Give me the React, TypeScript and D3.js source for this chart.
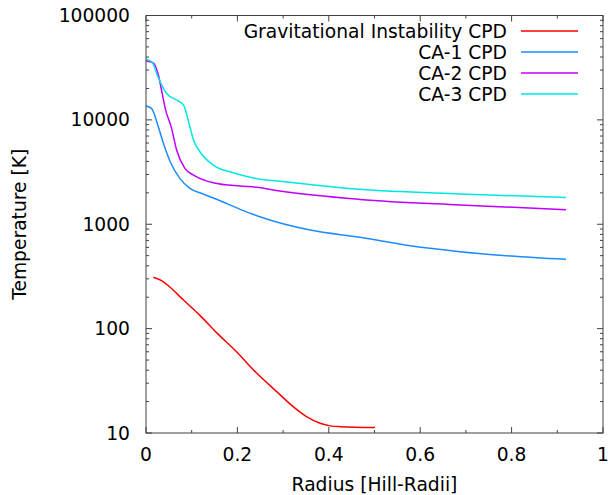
import React from "react";
import * as d3 from "d3";

const W = 608;
const H = 495;
const M = { left: 146, right: 5, top: 15.5, bottom: 62 };

const seriesNames = ["Gravitational Instability CPD", "CA-1 CPD", "CA-2 CPD", "CA-3 CPD"];
const seriesColors = ["#ff0000", "#1e8cff", "#bf00ff", "#00e6e6"];

// radius [Hill radii], temperature [K]
const giR = [0.016, 0.034, 0.045, 0.082, 0.118, 0.155, 0.198, 0.242, 0.286, 0.322, 0.352, 0.381, 0.403, 0.425, 0.501];
const giT = [310, 288, 266, 188, 134, 91, 60, 37.5, 24.9, 17.9, 14.3, 12.4, 11.7, 11.5, 11.3];

const ca1R = [0, 0.012, 0.027, 0.038, 0.053, 0.074, 0.096, 0.125, 0.162, 0.206, 0.249, 0.359, 0.468, 0.578, 0.687, 0.797, 0.919];
const ca1T = [13600, 12900, 8600, 5960, 3970, 2750, 2210, 1950, 1680, 1390, 1180, 880, 750, 622, 546, 496, 461];

const ca2R = [0, 0.016, 0.027, 0.034, 0.042, 0.056, 0.067, 0.085, 0.104, 0.147, 0.206, 0.242, 0.293, 0.468, 0.687, 0.919];
const ca2T = [36600, 35200, 26900, 19300, 12900, 8300, 5140, 3430, 2960, 2500, 2320, 2260, 2080, 1730, 1530, 1380];

const ca3R = [0, 0.013, 0.026, 0.045, 0.074, 0.082, 0.096, 0.104, 0.118, 0.147, 0.191, 0.235, 0.293, 0.468, 0.687, 0.919];
const ca3T = [38200, 35800, 25900, 17900, 14900, 13900, 8600, 6400, 4950, 3690, 3110, 2770, 2580, 2160, 1950, 1800];

const xTicks = [0, 0.2, 0.4, 0.6, 0.8, 1];
const xTickLabels = ["0", "0.2", "0.4", "0.6", "0.8", "1"];
const yTicks = [10, 100, 1000, 10000, 100000];
const yTickLabels = ["10", "100", "1000", "10000", "100000"];

const xLabel = "Radius [Hill-Radii]";
const yLabel = "Temperature [K]";

const FONT = "'DejaVu Sans', sans-serif";
const FS = 18.7;
const AXIS = "#404040";

export default function App() {
  const x = d3.scaleLinear().domain([0, 1]).range([M.left, W - M.right]);
  const y = d3.scaleLog().domain([10, 100000]).range([H - M.bottom, M.top]);
  const x0 = M.left, x1 = W - M.right, y0 = H - M.bottom, y1 = M.top;

  const series = [
    { r: giR, t: giT },
    { r: ca1R, t: ca1T },
    { r: ca2R, t: ca2T },
    { r: ca3R, t: ca3T },
  ];
  const line = d3
    .line<[number, number]>()
    .x((d) => x(d[0]))
    .y((d) => y(d[1]))
    .curve(d3.curveMonotoneX);

  const xMinor = d3.range(0.1, 1, 0.2);
  const yMinor: number[] = [];
  for (let dec = 10; dec < 100000; dec *= 10) {
    for (let k = 2; k <= 9; k++) yMinor.push(dec * k);
  }
  const MAJ = 6, MIN = 3;

  return (
    <svg width={W} height={H} style={{ position: "absolute", left: 0, top: 0, background: "#fff" }}>
      <rect x={0} y={0} width={W} height={H} fill="#fff" />
      {/* ticks */}
      <g stroke={AXIS} strokeWidth={1}>
        {xTicks.map((v) => (
          <g key={"xt" + v}>
            <line x1={x(v)} x2={x(v)} y1={y0} y2={y0 - MAJ} />
            <line x1={x(v)} x2={x(v)} y1={y1} y2={y1 + MAJ} />
          </g>
        ))}
        {xMinor.map((v) => (
          <g key={"xm" + v}>
            <line x1={x(v)} x2={x(v)} y1={y0} y2={y0 - MIN} />
            <line x1={x(v)} x2={x(v)} y1={y1} y2={y1 + MIN} />
          </g>
        ))}
        {yTicks.map((v) => (
          <g key={"yt" + v}>
            <line x1={x0} x2={x0 + MAJ} y1={y(v)} y2={y(v)} />
            <line x1={x1} x2={x1 - MAJ} y1={y(v)} y2={y(v)} />
          </g>
        ))}
        {yMinor.map((v) => (
          <g key={"ym" + v}>
            <line x1={x0} x2={x0 + MIN} y1={y(v)} y2={y(v)} />
            <line x1={x1} x2={x1 - MIN} y1={y(v)} y2={y(v)} />
          </g>
        ))}
      </g>
      {/* curves */}
      {series.map((s, i) => (
        <path
          key={"s" + i}
          d={line(s.r.map((r, j) => [r, s.t[j]] as [number, number])) || ""}
          fill="none"
          stroke={seriesColors[i]}
          strokeWidth={1.5}
        />
      ))}
      {/* frame */}
      <rect x={x0} y={y1} width={x1 - x0} height={y0 - y1} fill="none" stroke={AXIS} strokeWidth={1} />
      {/* tick labels */}
      <g fontFamily={FONT} fontSize={FS} fill="#000">
        {xTicks.map((v, i) => (
          <text key={"xl" + v} x={x(v)} y={y0 + 28} textAnchor="middle">
            {xTickLabels[i]}
          </text>
        ))}
        {yTicks.map((v, i) => (
          <text key={"yl" + v} x={x0 - 16} y={y(v) + 6.5} textAnchor="end">
            {yTickLabels[i]}
          </text>
        ))}
        <text x={(x0 + x1) / 2} y={H - 4} textAnchor="middle">
          {xLabel}
        </text>
        <text transform={`translate(26, ${(y0 + y1) / 2}) rotate(-90)`} textAnchor="middle">
          {yLabel}
        </text>
      </g>
      {/* legend */}
      <g fontFamily={FONT} fontSize={FS}>
        {seriesNames.map((n, i) => (
          <g key={"lg" + i}>
            <text x={507} y={31 + i * 21 + 6.5} textAnchor="end" fill="#000">
              {n}
            </text>
            <line x1={521} x2={578} y1={31 + i * 21} y2={31 + i * 21} stroke={seriesColors[i]} strokeWidth={1.5} />
          </g>
        ))}
      </g>
    </svg>
  );
}
